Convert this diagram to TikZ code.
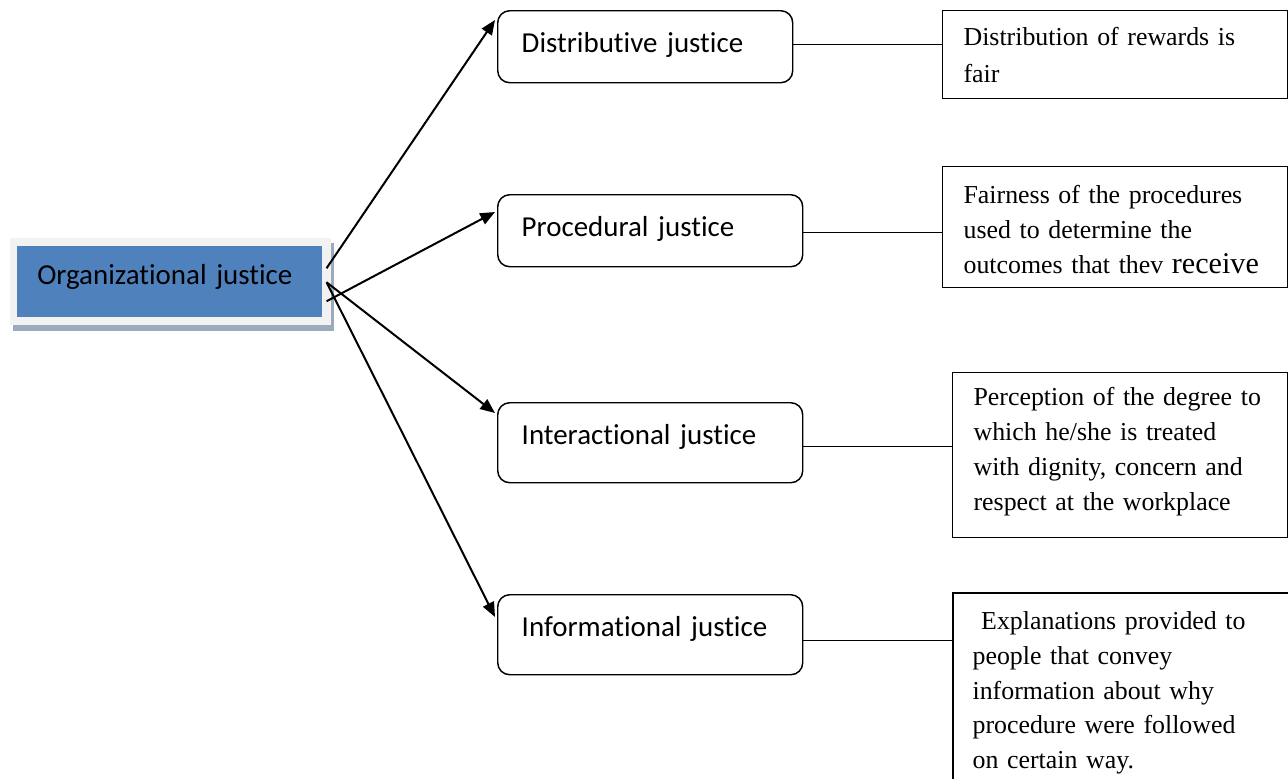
\documentclass[tikz,border=0pt]{standalone}
\usepackage{fontspec}
\setmainfont{Liberation Serif}
\newfontfamily\carl[Ligatures={NoCommon,NoRequired,NoContextual}]{Carlito}
\usetikzlibrary{arrows.meta,calc,backgrounds}
\definecolor{ojblue}{HTML}{4F81BD}
\definecolor{ojframe}{HTML}{F2F2F2}
\definecolor{ojshadow}{HTML}{9DAABB}
\begin{document}
\begin{tikzpicture}[x=0.75pt,y=-0.75pt,
  jbox/.style={draw, rounded corners=9pt, line width=1.1pt, fill=white, anchor=north west,
    inner ysep=0pt, inner xsep=18pt, align=left, text height=31.5pt,
    font=\carl\fontsize{21.7pt}{26pt}\selectfont},
  descbox/.style={draw, line width=0.9pt, anchor=north west, inner ysep=0pt,
    inner xsep=15.75pt, align=left, font=\fontsize{19.4pt}{26.3pt}\selectfont},
  mainbox/.style={fill=ojblue, anchor=north west, inner ysep=0pt, inner xsep=15pt,
    align=left, text width=198.75pt, text height=28.5pt, text depth=24.75pt,
    font=\carl\fontsize{21.7pt}{26pt}\selectfont},
  arr/.style={line width=1.5pt, -{Triangle[length=11pt,width=9pt]}},
  link/.style={line width=1.1pt}]
\useasboundingbox (0,0) rectangle (1288,778);

% central node
\node[mainbox] (oj) at (17,246) {Organizational justice};
\begin{scope}[on background layer]
  \fill[ojshadow] ($(oj.north west)+(-4,-3)$) rectangle ($(oj.south east)+(11,13)$);
  \fill[ojframe] ($(oj.north west)+(-7,-8)$) rectangle ($(oj.south east)+(8,7)$);
\end{scope}

% justice types
\node[jbox, text width=185.25pt, text depth=22.5pt] (d) at (497,10) {Distributive justice};
\node[jbox, text width=192.75pt, text depth=22.5pt] (p) at (497,194) {Procedural justice};
\node[jbox, text width=192.75pt, text depth=28.5pt] (i) at (497,402) {Interactional justice};
\node[jbox, text width=192.75pt, text depth=28.5pt] (f) at (497,594) {Informational justice};

% descriptions
\node[descbox, text width=227.25pt, text height=26.25pt, text depth=39.75pt,
  font=\fontsize{19.4pt}{27.75pt}\selectfont] (r1) at (942,10)
  {Distribution of rewards is\\fair};
\node[descbox, text width=227.25pt, text height=27.75pt, text depth=63pt] (r2) at (942,166)
  {Fairness of the procedures\\used to determine the\\outcomes that thev {\fontsize{22.6pt}{26.3pt}\selectfont receive}};
\node[descbox, inner xsep=12pt, text width=227.25pt, text height=24.75pt, text depth=99pt] (r3) at (952,372)
  {\hspace{3.75pt}Perception of the degree to\\\hspace*{3.75pt}which he/she is treated\\\hspace*{3.75pt}with dignity, concern and\\\hspace*{3.75pt}respect at the workplace};
\node[descbox, draw=none, inner xsep=14.25pt, text width=222pt, text height=27pt, text depth=111.75pt,
  font=\fontsize{19.4pt}{26.06pt}\selectfont] (r4) at (953,593)
  {\ Explanations provided to\\people that convey\\information about why\\procedure were followed\\on certain way.};
\draw[line width=0.9pt] (r4.south west) -- (r4.north west) -- (r4.north east) -- (r4.south east);

% arrows
\coordinate (s1) at ($(oj.east)+(4,-13.5)$);
\coordinate (s2) at ($(oj.east)+(4,19.5)$);
\coordinate (s3) at ($(oj.east)+(4,0.5)$);
\draw[arr] (s1) -- ($(d.north west)+(-2,10)$);
\draw[arr] (s2) -- ($(p.north west)+(-2,18)$);
\draw[arr] (s3) -- ($(i.north west)+(-2,11)$);
\draw[arr] (s3) -- ($(f.north west)+(-2,23)$);

% links
\draw[link] ($(d.east)+(0,-2)$) coordinate (t1) -- (t1 -| r1.west);
\draw[link] ($(p.east)+(0,2)$) coordinate (t2) -- (t2 -| r2.west);
\draw[link] ($(i.east)+(0,4)$) coordinate (t3) -- (t3 -| r3.west);
\draw[link] ($(f.east)+(0,6)$) coordinate (t4) -- (t4 -| r4.west);
\end{tikzpicture}
\end{document}
